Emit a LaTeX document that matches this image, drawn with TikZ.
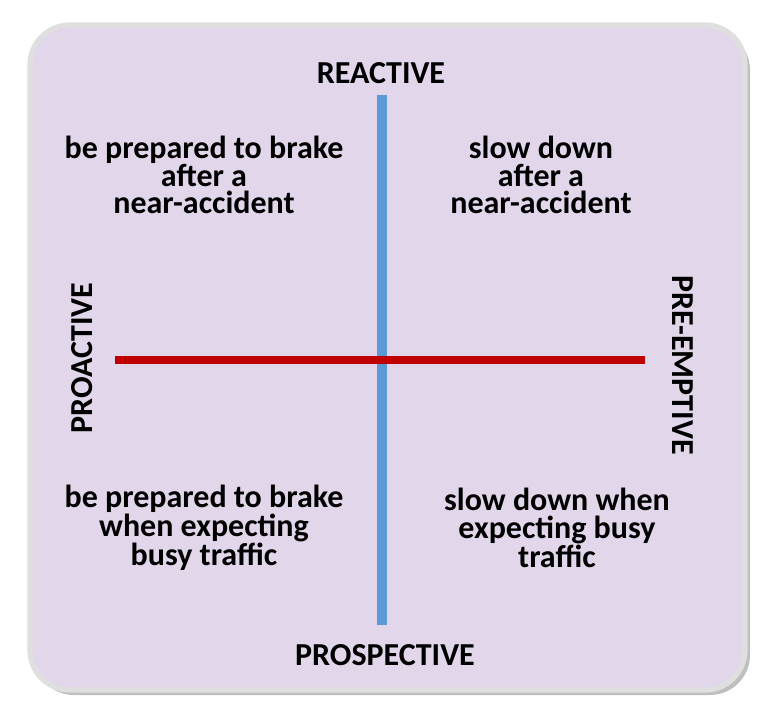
\documentclass[tikz,border=0pt]{standalone}
\usepackage{fontspec}
\setmainfont{Carlito}
\begin{document}
\begin{tikzpicture}[x=0.75pt,y=-0.75pt,
  lab/.style={font=\bfseries\fontsize{24}{26}\selectfont},
  txt/.style={font=\bfseries\fontsize{24}{20.5}\selectfont,align=center}]
\useasboundingbox (0,0) rectangle (768,717);
\fill[gray!50,rounded corners=30] (34,30) rectangle (750,695);
\draw[line width=4pt,draw=gray!25,fill={rgb,255:red,226;green,214;blue,234},rounded corners=30] (30,25) rectangle (745,690);
\node[lab] (r) at (381,73) {REACTIVE};
\node[lab] (p) at (385,655) {PROSPECTIVE};
\node[lab,rotate=90] (pa) at (82,358) {PROACTIVE};
\node[lab,rotate=-90] (pe) at (683,365) {PRE-EMPTIVE};
\coordinate (vt) at (382,95); \coordinate (vb) at (382,625);
\coordinate (hl) at (115,360); \coordinate (hr) at (645,360);
\draw[line width=7.5pt,draw={rgb,255:red,91;green,155;blue,213}] (vt) -- (vb);
\draw[line width=6pt,draw={rgb,255:red,192;green,0;blue,0}] (hl) -- (hr);
\node[txt] (tl) at (204,175) {be prepared to brake\\after a\\near-accident};
\node[txt] (tr) at (541,175) {slow down\\after a\\near-accident};
\node[txt] (bl) at (204,528) {be prepared to brake\\when expecting\\busy traffic};
\node[txt] (br) at (557,528) {slow down when\\expecting busy\\traffic};
\end{tikzpicture}
\end{document}
